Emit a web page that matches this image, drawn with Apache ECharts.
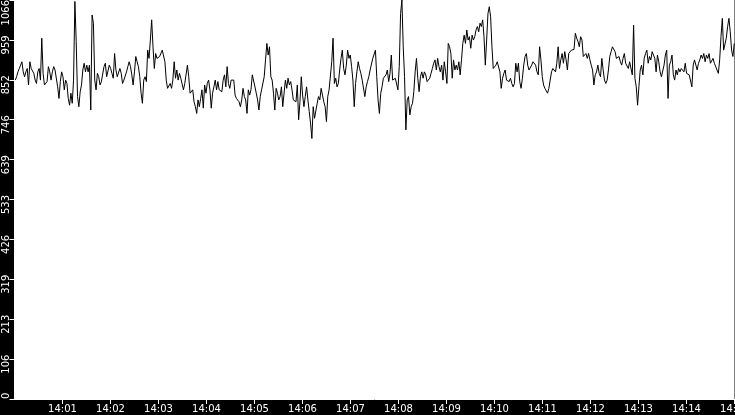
<!DOCTYPE html>
<html>
<head>
<meta charset="utf-8">
<script src="https://cdn.jsdelivr.net/npm/echarts@6/dist/echarts.min.js"></script>
<style>
  html, body { margin: 0; padding: 0; background: #000; }
  #chart { width: 735px; height: 415px; }
</style>
</head>
<body>
<div id="chart"></div>
<script>
// one reading roughly every 1.65 s, 14:00:01 .. 14:15:00
const startTime = Date.UTC(2024, 0, 1, 14, 0, 0);
const firstOffsetMs = 1000;
const stepMs = 1655;
const yMax = 1066;
const yStep = 106.6;

// values, in strips from left to right
const vals0 = [852,861,874,883,892,901,874,861,874,883,839,901,883,879,870,852,843,874,883,852,
  964,870,839,834,848,888,874,852,874,888,879,874,834,803,848,874,861,826,852,843,
  803,785,817,790,852,1062,955,808,781,821,839,879,897,874,892,874,892,772,1026,1004,
  852,826,870,861,839,848,852,888,897,861,866,892,883,870,857,923,879,861];
const vals1 = [861,883,870,843,852,852,874,888,901,888,866,839,874,915,901,888,861,817,790,852,
  861,848,932,910,959,1013,941,883,923,910,906,915,919,932,928,901,852,830,826,843,
  830,852,901,857,879,852,870,857,852,826,843,848,892,861,817,812,826,794,781,763,
  799,781,803,826,777,839,817,843,852,826,777,817,834,852,826,848,826,821];
const vals2 = [821,852,866,834,888,843,830,852,852,852,812,803,799,794,781,799,830,808,799,763,
  826,812,826,866,870,834,817,799,772,808,826,830,861,906,950,919,941,861,852,817,
  772,830,817,799,808,834,781,817,852,830,857,839,848,826,799,803,794,839,746,794,
  861,812,781,808,834,799,768,737,696,781,750,754,790,808,799,830,812,794];
const vals3 = [781,741,808,826,830,901,964,843,857,834,843,879,910,932,883,866,892,932,910,919,
  888,852,781,843,874,901,883,870,852,857,808,834,848,861,879,883,910,915,932,861,
  799,763,817,834,857,852,866,879,848,870,919,852,852,857,861,826,888,1030,1066,941,
  861,719,799,808,759,781,790,821,874,910,857,821,861,874,857,874,866,848];
const vals4 = [848,857,870,883,897,906,879,910,888,874,892,852,901,874,843,950,941,923,857,906,
  879,892,879,901,866,906,950,972,950,986,959,968,937,972,959,968,986,995,981,1004,
  995,1013,968,892,959,1030,1048,1021,941,883,888,892,901,906,874,830,857,870,879,852,
  857,848,857,843,834,843,897,874,897,848,830,857,892,915,923,892,879,883];
const vals5 = [892,901,897,892,874,866,941,906,861,839,830,826,817,830,834,874,883,888,874,897,
  941,883,906,923,897,928,906,879,923,928,932,937,934,977,964,955,941,968,959,915,
  919,923,910,923,906,892,879,839,866,874,892,870,861,910,879,852,843,852,879,915,
  928,941,937,928,910,906,915,901,892,910,923,897,892,883,901,906,866,999];
const vals6 = [857,834,785,834,879,892,866,910,923,932,897,915,906,928,919,910,874,919,901,874,
  861,861,892,919,932,803,892,901,919,866,852,879,866,883,874,883,883,874,897,870,
  870,866,866,834,892,906,910,879,897,906,919,910,923,901,919,910,923,897,901,910,
  897,897,879,870,906,968,1017,932,928,964,995,1017,981,932,915,950];

const values = [].concat(vals0, vals1, vals2, vals3, vals4, vals5, vals6);
const points = values.map((v, i) => [startTime + firstOffsetMs + i * stepMs, v]);

function pad(n) { return (n < 10 ? '0' : '') + n; }

const chart = echarts.init(document.getElementById('chart'));
chart.setOption({
  animation: false,
  backgroundColor: '#000',
  grid: {
    left: 14.5, right: 0.5, top: 0, bottom: 16,
    containLabel: false, outerBoundsMode: 'none',
    show: true, backgroundColor: '#fff', borderWidth: 0
  },
  xAxis: {
    type: 'value',
    min: startTime,
    max: startTime + 15 * 60000,
    interval: 60000,
    splitLine: { show: false },
    axisLine: { lineStyle: { color: '#fff', width: 1 } },
    axisTick: { length: 5, lineStyle: { color: '#fff' } },
    axisLabel: {
      color: '#fff', fontFamily: 'DejaVu Sans', fontSize: 10, margin: 5,
      showMinLabel: false, showMaxLabel: true, hideOverlap: false,
      formatter: function (v) {
        const d = new Date(v);
        return pad(d.getUTCHours()) + ':' + pad(d.getUTCMinutes());
      }
    }
  },
  yAxis: {
    type: 'value',
    min: 0,
    max: yMax,
    interval: yStep,
    splitLine: { show: false },
    axisLine: { show: true, lineStyle: { color: '#fff', width: 1 } },
    axisTick: { show: true, length: 5, lineStyle: { color: '#fff' } },
    axisLabel: {
      color: '#fff', fontFamily: 'DejaVu Sans', fontSize: 10, margin: 3,
      rotate: 90,
      alignMinLabel: 'left', alignMaxLabel: 'right',
      formatter: function (v) {
        const s = String(Math.floor(v + 1e-6));
        if (v < 1 || v > yMax - 1) return s;
        return '{p|' + s + '}';
      },
      rich: { p: { padding: [0, 10, 0, 0] } }
    }
  },
  series: [{
    type: 'line',
    data: points,
    symbol: 'none',
    lineStyle: { color: '#000', width: 1 },
    sampling: false
  }]
});
</script>
</body>
</html>
